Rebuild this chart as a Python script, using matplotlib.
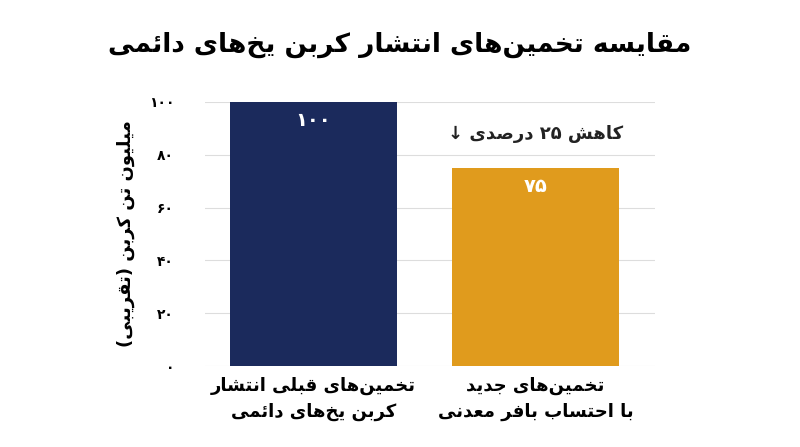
import matplotlib
matplotlib.use("Agg")
import matplotlib.pyplot as plt

title = "مقایسه تخمین‌های انتشار کربن یخ‌های دائمی"
ylabel = "میلیون تن کربن (تقریبی)"
categories = ["تخمین‌های قبلی انتشار\nکربن یخ‌های دائمی", "تخمین‌های جدید\nبا احتساب بافر معدنی"]
values = [100, 75]
value_labels = ["۱۰۰", "۷۵"]
yticks = [0, 20, 40, 60, 80, 100]
ytick_labels = ["۰", "۲۰", "۴۰", "۶۰", "۸۰", "۱۰۰"]
note = "کاهش ۲۵ درصدی ↓"
colors = ["#1b2a5c", "#e09b1d"]

# minimal Arabic-script shaper: (iso, fin, ini, med)
F = {
 'ا': (0xFE8D, 0xFE8E, None, None), 'ب': (0xFE8F, 0xFE90, 0xFE91, 0xFE92),
 'ت': (0xFE95, 0xFE96, 0xFE97, 0xFE98), 'ج': (0xFE9D, 0xFE9E, 0xFE9F, 0xFEA0),
 'ح': (0xFEA1, 0xFEA2, 0xFEA3, 0xFEA4), 'خ': (0xFEA5, 0xFEA6, 0xFEA7, 0xFEA8),
 'د': (0xFEA9, 0xFEAA, None, None), 'ر': (0xFEAD, 0xFEAE, None, None),
 'س': (0xFEB1, 0xFEB2, 0xFEB3, 0xFEB4), 'ش': (0xFEB5, 0xFEB6, 0xFEB7, 0xFEB8),
 'ص': (0xFEB9, 0xFEBA, 0xFEBB, 0xFEBC), 'ع': (0xFEC9, 0xFECA, 0xFECB, 0xFECC),
 'ف': (0xFED1, 0xFED2, 0xFED3, 0xFED4), 'ق': (0xFED5, 0xFED6, 0xFED7, 0xFED8),
 'ل': (0xFEDD, 0xFEDE, 0xFEDF, 0xFEE0), 'م': (0xFEE1, 0xFEE2, 0xFEE3, 0xFEE4),
 'ن': (0xFEE5, 0xFEE6, 0xFEE7, 0xFEE8), 'ه': (0xFEE9, 0xFEEA, 0xFEEB, 0xFEEC),
 'و': (0xFEED, 0xFEEE, None, None), 'ئ': (0xFE89, 0xFE8A, 0xFE8B, 0xFE8C),
 'ک': (0xFB8E, 0xFB8F, 0xFB90, 0xFB91), 'ی': (0xFBFC, 0xFBFD, 0xFBFE, 0xFBFF),
}

def shape(line):
    out = []
    n = len(line)
    for i, c in enumerate(line):
        if c not in F:
            if c != '\u200c':
                out.append(c)
            continue
        p = line[i-1] if i > 0 else ''
        nx = line[i+1] if i+1 < n else ''
        jp = p in F and F[p][2] is not None
        jn = nx in F and F[c][2] is not None
        iso, fin, ini, med = F[c]
        if jp and jn: cp = med
        elif jp: cp = fin
        elif jn: cp = ini
        else: cp = iso
        out.append(chr(cp))
    # visual reorder: reverse, keep digit runs LTR, mirror parens
    toks, cur = [], ''
    for ch in out:
        if ch.isdigit():
            cur += ch
        else:
            if cur: toks.append(cur); cur = ''
            toks.append({'(': ')', ')': '('}.get(ch, ch))
    if cur: toks.append(cur)
    return ''.join(reversed(toks))

def fa(s):
    return '\n'.join(shape(l) for l in s.split('\n'))

plt.rcParams['font.family'] = ['DejaVu Sans']
fig = plt.figure(figsize=(8, 4.47), dpi=100)
ax = fig.add_axes([0.256, 0.181, 0.563, 0.591])
x = list(range(len(values)))
ax.bar(x, values, width=0.75, color=colors, zorder=3)
ax.set_xlim(-0.49, 1.54)
ax.set_ylim(0, 100)
ax.set_yticks(yticks)
ax.set_yticklabels(ytick_labels, fontsize=10, fontweight='bold')
ax.set_xticks(x)
ax.set_xticklabels([fa(c) for c in categories], fontsize=13, fontweight='bold', linespacing=1.5)
ax.tick_params(length=0, pad=22, axis='y')
ax.tick_params(length=0, pad=8, axis='x')
ax.grid(axis='y', color='#dddddd', lw=0.8, zorder=0)
for s in ax.spines.values():
    s.set_visible(False)
for xi, v, lab in zip(x, values, value_labels):
    ax.text(xi, v - 7, lab, ha='center', va='center', color='white', fontsize=14, fontweight='bold')
ax.text(1, 88, fa(note), ha='center', va='center', fontsize=13, fontweight='bold', color='#222222')
ax.set_ylabel(fa(ylabel), fontsize=13, fontweight='bold', rotation=90, labelpad=10)
fig.text(0.5, 0.9, fa(title), ha='center', va='center', fontsize=19, fontweight='bold')
fig.savefig('out.png', dpi=100, facecolor='white')
